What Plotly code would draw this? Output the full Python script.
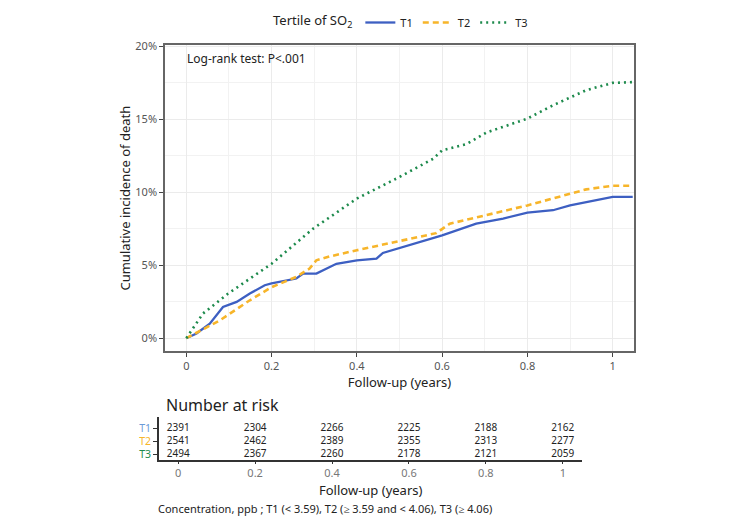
import plotly.graph_objects as go

# cumulative incidence (%)
t1_x = [0, 0.024, 0.055, 0.086, 0.118, 0.149, 0.184, 0.2, 0.258, 0.274, 0.305, 0.352, 0.4,
        0.446, 0.461, 0.508, 0.6, 0.68, 0.743, 0.8, 0.86, 0.9, 0.977, 1.0, 1.047]
t1_y = [0, 0.32, 1.0, 2.14, 2.49, 3.06, 3.63, 3.75, 4.09, 4.43, 4.43, 5.1, 5.34,
        5.46, 5.84, 6.25, 7.05, 7.85, 8.2, 8.6, 8.77, 9.1, 9.57, 9.68, 9.68]

t2_x = [0, 0.079, 0.149, 0.2, 0.258, 0.289, 0.305, 0.336, 0.4, 0.5, 0.586, 0.618,
        0.704, 0.8, 0.9, 0.938, 1.0, 1.047]
t2_y = [0, 1.23, 2.6, 3.5, 4.2, 4.77, 5.34, 5.6, 6.03, 6.67, 7.2, 7.85,
        8.42, 9.1, 9.9, 10.2, 10.45, 10.45]

t3_x = [0, 0.039, 0.098, 0.2, 0.297, 0.4, 0.5, 0.579, 0.6, 0.657, 0.704, 0.8,
        0.86, 0.938, 1.0, 1.047]
t3_y = [0, 1.69, 3.06, 5.1, 7.5, 9.57, 11.05, 12.3, 12.88, 13.3, 14.1, 15.05,
        15.96, 17.0, 17.5, 17.55]

# number at risk table
risk_times = [0, 0.2, 0.4, 0.6, 0.8, 1]
risk_t1 = [2391, 2304, 2266, 2225, 2188, 2162]
risk_t2 = [2541, 2462, 2389, 2355, 2313, 2277]
risk_t3 = [2494, 2367, 2260, 2178, 2121, 2059]

groups = ["T1", "T2", "T3"]
x_ticks = ["0", "0.2", "0.4", "0.6", "0.8", "1"]
y_ticks = [0, 5, 10, 15, 20]

colors = ["#3d5fc2", "#f7b52a", "#1d8a4c"]
label_colors = ["#6b9bd8", "#f7b52a", "#1d8a4c"]
dashes = ["solid", "6px,4px", "2px,4px"]

FONT = "Noto Sans"
# page body has an 8px margin, so the figure sits at (8, 8)
OFF = 8
W, H = 756 - OFF, 523 - OFF


def px(x):
    return (x - OFF) / W


def py(y):
    return 1 - (y - OFF) / H


fig = go.Figure()

curves = [(t1_x, t1_y), (t2_x, t2_y), (t3_x, t3_y)]
for name, (xs, ys), c, d in zip(groups, curves, colors, dashes):
    fig.add_trace(go.Scatter(
        x=xs, y=ys, name=name, mode="lines",
        line=dict(color=c, width=2.3 if d == "solid" else 2.6, dash=d),
        xaxis="x", yaxis="y",
    ))

# risk table as text marks
rows = [(3, risk_t1), (2, risk_t2), (1, risk_t3)]
for row, counts in rows:
    fig.add_trace(go.Scatter(
        x=risk_times, y=[row] * len(risk_times), text=[str(v) for v in counts],
        mode="text", textfont=dict(family=FONT, size=10, color="#222222"),
        showlegend=False, hoverinfo="skip", xaxis="x2", yaxis="y2",
    ))

grid = "#ebebeb"
tick_font = dict(family=FONT, size=11, color="#555555")


def note(text, x, y, size, anchor="left"):
    return dict(text=text, x=px(x), y=py(y), xref="paper", yref="paper",
                xanchor=anchor, yanchor="middle", showarrow=False,
                font=dict(family=FONT, size=size, color="#222222"))


fig.update_layout(
    width=W, height=H,
    margin=dict(l=0, r=0, t=0, b=0),
    paper_bgcolor="white", plot_bgcolor="white",
    font=dict(family=FONT, color="#222222"),
    legend=dict(
        orientation="h", x=px(402), xanchor="center", y=py(7), yanchor="top",
        title=dict(text="Tertile of SO<sub>2</sub>", font=dict(size=13, color="#222222")),
        font=dict(size=11, color="#222222"), itemwidth=30, tracegroupgap=0,
    ),
    xaxis=dict(
        domain=[px(165), px(634)], range=[-0.05, 1.05], anchor="y", automargin=False,
        tickvals=risk_times, ticktext=x_ticks,
        showgrid=True, gridcolor=grid, gridwidth=1,
        minor=dict(tickvals=[0.1, 0.3, 0.5, 0.7, 0.9], showgrid=True, gridcolor="#f2f2f2", gridwidth=1),
        showline=True, linecolor="#666666", linewidth=1.5, mirror=True,
        ticks="outside", ticklen=4, tickcolor="#444444", tickfont=tick_font,
        title=dict(text="Follow-up (years)", font=dict(size=13, color="#222222"), standoff=0),
        zeroline=False,
    ),
    yaxis=dict(
        domain=[py(351), py(44)], range=[-0.9, 20.1], anchor="x", automargin=False,
        tickvals=y_ticks, ticktext=[f"{v}%" for v in y_ticks],
        showgrid=True, gridcolor=grid, gridwidth=1,
        minor=dict(tickvals=[2.5, 7.5, 12.5, 17.5], showgrid=True, gridcolor="#f2f2f2", gridwidth=1),
        showline=True, linecolor="#666666", linewidth=1.5, mirror=True,
        ticks="outside", ticklen=4, tickcolor="#444444", tickfont=tick_font,
        title=dict(text="Cumulative incidence of death", font=dict(size=13, color="#222222"), standoff=2),
        zeroline=False,
    ),
    xaxis2=dict(
        domain=[px(159), px(582)], range=[-0.05, 1.05], anchor="y2", automargin=False,
        tickvals=risk_times, ticktext=x_ticks,
        showgrid=False, zeroline=False,
        showline=True, linecolor="#333333", linewidth=1.5,
        ticks="outside", ticklen=2, tickcolor="#333333",
        tickfont=dict(family=FONT, size=11, color="#777777"),
    ),
    yaxis2=dict(
        domain=[py(460), py(417)], range=[0.54, 3.85], anchor="x2", automargin=False,
        tickvals=[3, 2, 1],
        ticktext=[f"<span style='color:{c}'>{g}</span>" for g, c in zip(groups, label_colors)],
        showgrid=False, zeroline=False,
        showline=True, linecolor="#333333", linewidth=1.5,
        ticks="outside", ticklen=4, tickcolor="#333333",
        tickfont=dict(family=FONT, size=10.5),
    ),
    annotations=[
        note("Log-rank test: P<.001", 185, 58, 12),
        note("Number at risk", 164, 405, 16),
        note("Follow-up (years)", 370, 490, 13),
        note("Concentration, ppb ; T1 (< 3.59), T2 (≥ 3.59 and < 4.06), T3 (≥ 4.06)", 156, 508, 11),
    ],
)
fig.layout.annotations[2].xanchor = "center"

fig.write_html("out.html")
